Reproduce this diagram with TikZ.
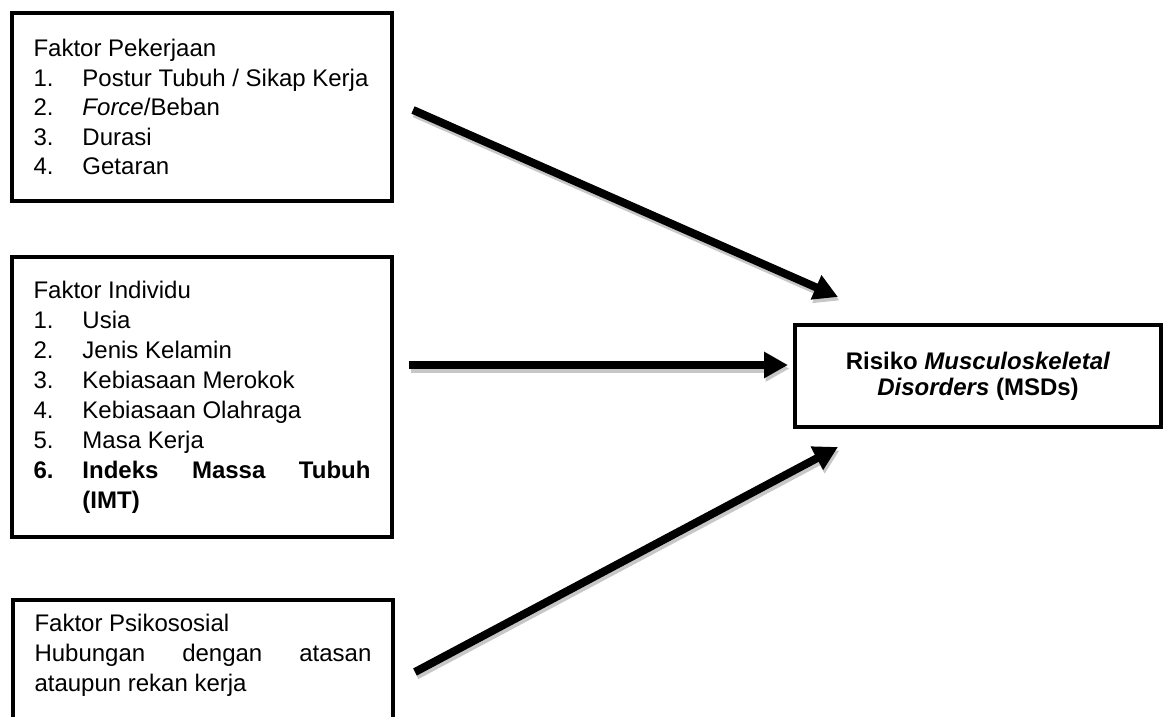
\documentclass[tikz,border=0pt]{standalone}
\usepackage{fontspec}
\setmainfont{Liberation Sans}
\usetikzlibrary{arrows.meta,positioning}

\newcommand{\butir}[2]{\makebox[49pt][l]{#1.}#2}

\begin{document}
\begin{tikzpicture}[x=1pt,y=-1pt,
    box/.style={draw,line width=4pt,anchor=north west,align=left,text width=337pt,
        inner xsep=21.5pt,font=\fontsize{24}{29.5}\selectfont,
        execute at begin node={\spaceskip=0pt\xspaceskip=0pt}},
    hasil/.style={draw,line width=4pt,align=center,minimum width=366pt,minimum height=102pt,
        font=\fontsize{24}{26}\selectfont\bfseries},
    panah/.style={line width=8pt,-{Triangle[length=24pt,width=25pt]},
        preaction={draw=black!22,line width=8pt,-{Triangle[length=24pt,width=25pt]},
            transform canvas={shift={(1.5,3.5)}}}}]
  \useasboundingbox (0,0) rectangle (1168,717);
  \fill[white] (0,0) rectangle (1168,717);

  % faktor-faktor
  \node[box,minimum height=188pt] (pekerjaan) at (10,11)
    {Faktor Pekerjaan\\
     \butir{1}{Postur Tubuh / Sikap Kerja}\\
     \butir{2}{\textit{Force}/Beban}\\
     \butir{3}{Durasi}\\
     \butir{4}{Getaran}};
  \node[box,minimum height=280pt,font=\fontsize{24}{30}\selectfont] (individu) at (10,255)
    {Faktor Individu\\
     \butir{1}{Usia}\\
     \butir{2}{Jenis Kelamin}\\
     \butir{3}{Kebiasaan Merokok}\\
     \butir{4}{Kebiasaan Olahraga}\\
     \butir{5}{Masa Kerja}\\
     \textbf{\butir{6}{\makebox[288pt][s]{Indeks Massa Tubuh}}}\\
     \hspace*{49pt}\textbf{(IMT)}};
  \node[box,inner ysep=14pt,text depth=80pt,font=\fontsize{24}{30}\selectfont] (psiko) at (11,598)
    {Faktor Psikososial\\
     \makebox[337pt][s]{Hubungan dengan atasan}\\
     ataupun rekan kerja};

  % hasil
  \node[hasil] (msd) at (978,376)
    {Risiko \textit{Musculoskeletal}\\ \textit{Disorders} (MSDs)};

  % panah
  \coordinate (p1) at (413,110);
  \coordinate (q1) at (838,297);
  \coordinate (p2) at (409,365);
  \coordinate (q2) at (788,365);
  \coordinate (p3) at (415,672);
  \coordinate (q3) at (838,447);
  \draw[panah] (p1) -- (q1);
  \draw[panah] (p2) -- (q2);
  \draw[panah] (p3) -- (q3);
\end{tikzpicture}
\end{document}
